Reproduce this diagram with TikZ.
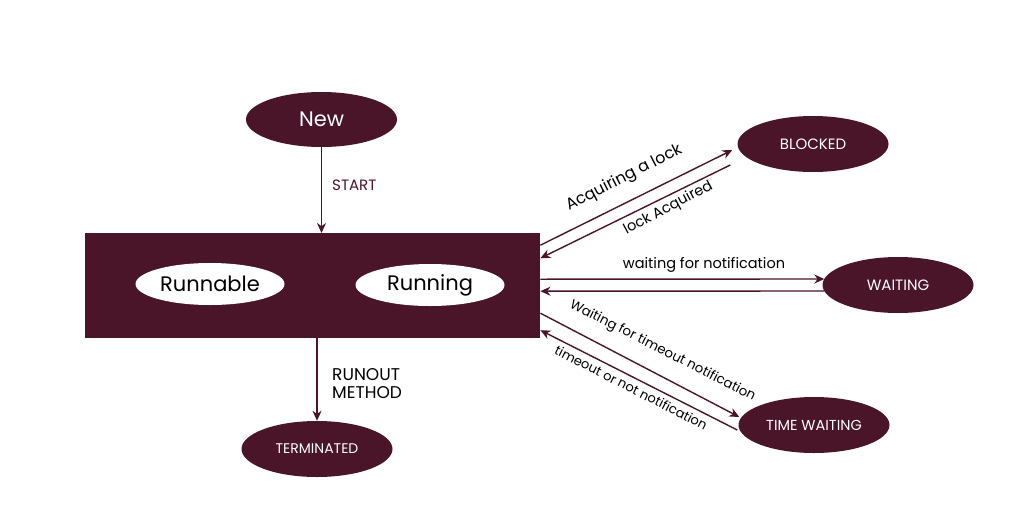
\documentclass[tikz,border=0pt]{standalone}
\usepackage{fontspec}
\setmainfont{Poppins}
\usetikzlibrary{shapes.geometric,arrows.meta,calc}
\definecolor{maroon}{HTML}{4A1429}
\tikzset{
  state/.style={ellipse, fill=maroon, text=white, minimum width=151pt, minimum height=56pt, inner sep=0pt},
  inner/.style={ellipse, fill=white, text=black, minimum width=149pt, minimum height=42pt, inner sep=0pt, font=\fontsize{21}{24}\selectfont},
  smallcap/.style={font=\fontsize{15}{17}\selectfont},
  arr/.style={draw=maroon, line width=1.4pt, -{Stealth[length=10pt,width=9pt]}},
  lbl/.style={font=\fontsize{14.5}{16}\selectfont, text=black, inner sep=0pt, anchor=base}
}
\begin{document}
\begin{tikzpicture}[x=1pt,y=-1pt]
\useasboundingbox (0,0) rectangle (1024,522);
% main box
\node[fill=maroon, minimum width=455pt, minimum height=105pt, inner sep=0pt, anchor=north west] (rect) at (85,233) {};
\node[inner] (runnable) at (210,284) {Runnable};
\node[inner] (running) at (430,285) {Running};
% states
\node[state, minimum height=55pt, font=\fontsize{21}{24}\selectfont] (new) at (321.5,119.5) {New};
\node[state, smallcap] (blocked) at (813,144) {BLOCKED};
\node[state, smallcap] (waiting) at (898,285) {WAITING};
\node[state, smallcap, font=\fontsize{14.5}{17}\selectfont] (timew) at (814,425) {TIME WAITING};
\node[state, smallcap, font=\fontsize{14}{17}\selectfont] (term) at (317,449) {TERMINATED};
% vertical arrows
\draw[arr] (new.south) -- (rect.north -| new.south);
\draw[arr] (rect.south -| term.north) -- (term.north);
\node[font=\fontsize{15}{17}\selectfont, text=maroon, inner sep=0pt, anchor=base west] (startlbl) at (332,190) {START};
\node[font=\fontsize{17}{17.5}\selectfont, inner sep=0pt, anchor=base west, align=left] (runout) at (332,398) {RUNOUT\\METHOD};
% blocked
\draw[arr] ([shift={(0,-40.5)}]rect.east) -- ([shift={(-5,6)}]blocked.west);
\draw[arr] ([shift={(-7,21)}]blocked.west) -- ([shift={(0,-27.5)}]rect.east);
\node[lbl, rotate=27, font=\fontsize{16}{18}\selectfont] (acq) at (626,181.5) {Acquiring a lock};
\node[lbl, rotate=28] (lacq) at (670,211.5) {lock Acquired};
% waiting
\draw[arr] ([shift={(0,-6.5)}]rect.east) -- ([shift={(2,-6)}]waiting.west);
\draw[arr] ([shift={(2,6)}]waiting.west) -- ([shift={(0,5.5)}]rect.east);
\node[lbl] (wfn) at (704,268) {waiting for notification};
% time waiting
\draw[arr] ([shift={(0,27.5)}]rect.east) -- ([shift={(1,-8)}]timew.west);
\draw[arr] ([shift={(-1,5)}]timew.west) -- ([shift={(0,44.5)}]rect.east);
\node[lbl, rotate=-27, font=\fontsize{13.3}{15}\selectfont] (wtn) at (661,354) {Waiting for timeout notification};
\node[lbl, rotate=-27, font=\fontsize{13}{15}\selectfont] (ton) at (629,392) {timeout or not notification};
\end{tikzpicture}
\end{document}
